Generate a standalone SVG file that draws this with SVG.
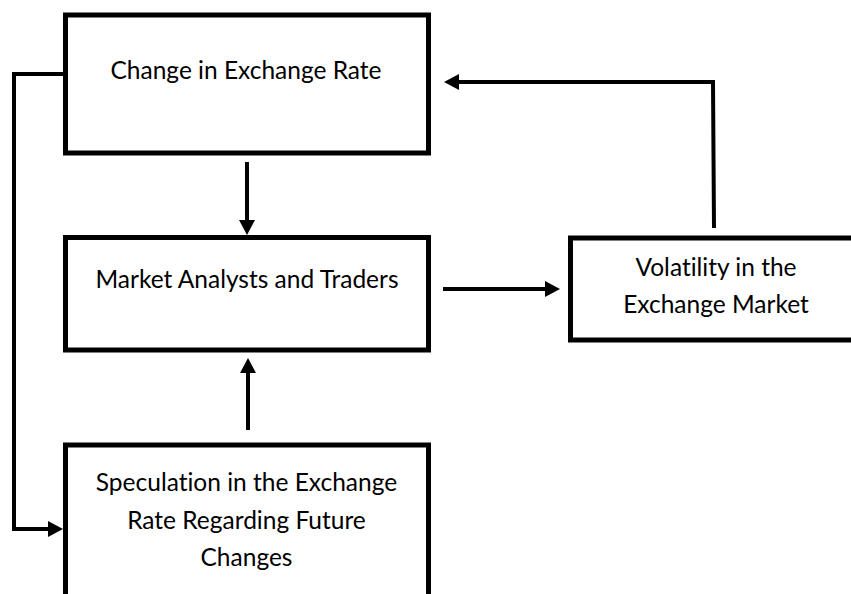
<svg xmlns="http://www.w3.org/2000/svg" width="851" height="594" viewBox="0 0 851 594">
  <style>
    .box { fill: #ffffff; stroke: #000000; stroke-width: 5; }
    .link { fill: none; stroke: #000000; stroke-width: 4; stroke-linejoin: miter; }
    .label { font-family: Lato, "Liberation Sans", sans-serif; font-size: 24.5px; fill: #000000; text-anchor: middle; font-variant-ligatures: none; }
  </style>
  <defs>
    <marker id="head" viewBox="0 0 15 16" refX="0" refY="8" markerWidth="15" markerHeight="16" markerUnits="userSpaceOnUse" orient="auto">
      <path d="M0,0 L15,8 L0,16 z" fill="#000000"/>
    </marker>
  </defs>
  <rect width="851" height="594" fill="#ffffff"/>

  <g id="connectors">
    <!-- Change in Exchange Rate to Market Analysts and Traders -->
    <path class="link" d="M247,162 L247,220" marker-end="url(#head)"/>
    <!-- Speculation up to Market Analysts and Traders -->
    <path class="link" d="M248,430 L248,373" marker-end="url(#head)"/>
    <!-- Market Analysts and Traders to Volatility -->
    <path class="link" d="M443,289 L545,289" marker-end="url(#head)"/>
    <!-- Volatility back to Change in Exchange Rate -->
    <path class="link" d="M714,228 L713,82 L459,82" marker-end="url(#head)"/>
    <!-- Change in Exchange Rate round the left side to Speculation -->
    <path class="link" d="M65,74 L14,74 L14,529 L48,529" marker-end="url(#head)"/>
  </g>

  <g id="node-change">
    <rect class="box" x="65.5" y="15" width="363" height="138"/>
    <text class="label" x="246" y="79">Change in Exchange Rate</text>
  </g>

  <g id="node-market">
    <rect class="box" x="65.5" y="237.5" width="363" height="112.5"/>
    <text class="label" x="247" y="288">Market Analysts and Traders</text>
  </g>

  <g id="node-speculation">
    <rect class="box" x="65.5" y="445" width="363" height="170"/>
    <text class="label" x="246.5" y="491">Speculation in the Exchange</text>
    <text class="label" x="246.5" y="529">Rate Regarding Future</text>
    <text class="label" x="246.5" y="566">Changes</text>
  </g>

  <g id="node-volatility">
    <rect class="box" x="570.5" y="238" width="300" height="102"/>
    <text class="label" x="716" y="276">Volatility in the</text>
    <text class="label" x="716" y="313">Exchange Market</text>
  </g>
</svg>
